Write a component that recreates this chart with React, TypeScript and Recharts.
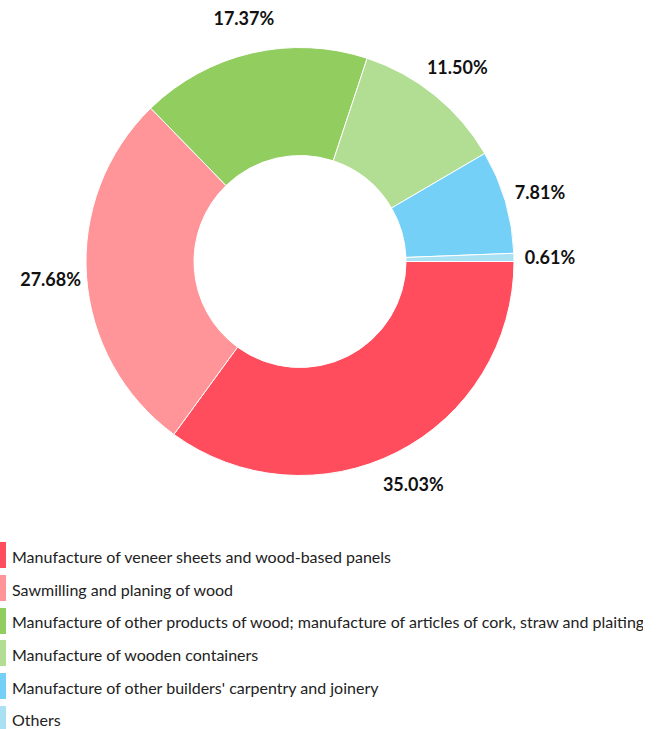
import React from 'react';
import { PieChart, Pie, Cell, Legend } from 'recharts';

const categories = [
  'Manufacture of veneer sheets and wood-based panels',
  'Sawmilling and planing of wood',
  'Manufacture of other products of wood; manufacture of articles of cork, straw and plaiting materials',
  'Manufacture of wooden containers',
  "Manufacture of other builders' carpentry and joinery",
  'Others',
];
const shares = [35.03, 27.68, 17.37, 11.5, 7.81, 0.61];
const colors = ['#FF4D5D', '#FF9598', '#92CD60', '#B2DE94', '#74D0F6', '#A9E0F2'];

const data = categories.map((name, i) => ({ name, value: shares[i] }));

const RAD = Math.PI / 180;

const renderLabel = (props: any) => {
  const { cx, cy, midAngle, outerRadius, index } = props;
  const r = outerRadius + 36;
  const x = cx + r * Math.cos(-midAngle * RAD);
  const y = cy + r * Math.sin(-midAngle * RAD);
  return (
    <text
      x={x}
      y={y}
      textAnchor="middle"
      dominantBaseline="central"
      fill="#111"
      fontSize={18}
      fontWeight={700}
      fontFamily="Lato, sans-serif"
    >
      {shares[index].toFixed(2)}%
    </text>
  );
};

const renderLegend = () => (
  <div style={{ fontFamily: 'Lato, sans-serif', fontSize: 16, color: '#222', width: 643, overflow: 'hidden' }}>
    {data.map((d, i) => (
      <div
        key={d.name}
        style={{ display: 'flex', alignItems: 'center', height: 32.7, whiteSpace: 'nowrap', overflow: 'hidden' }}
      >
        <span style={{ display: 'inline-block', width: 6, height: 26, background: colors[i], marginRight: 6, flex: 'none' }} />
        <span style={{ position: 'relative', top: 1 }}>{d.name}</span>
      </div>
    ))}
  </div>
);

export default function App() {
  return (
    <div style={{ position: 'absolute', left: 0, top: 0, width: 657, height: 729, background: '#fff', overflow: 'hidden' }}>
      <PieChart width={657} height={729} margin={{ top: 0, right: 0, bottom: 0, left: 0 }}>
        <Pie
          data={data}
          dataKey="value"
          cx={300}
          cy={261.5}
          innerRadius={106}
          outerRadius={214}
          startAngle={0}
          endAngle={-360}
          stroke="#fff"
          strokeWidth={1}
          label={renderLabel}
          labelLine={false}
          isAnimationActive={false}
        >
          {data.map((d, i) => (
            <Cell key={d.name} fill={colors[i]} />
          ))}
        </Pie>
        <Legend
          content={renderLegend}
          wrapperStyle={{ position: 'absolute', top: 539, left: 0, width: 657, bottom: 'auto' }}
        />
      </PieChart>
    </div>
  );
}
